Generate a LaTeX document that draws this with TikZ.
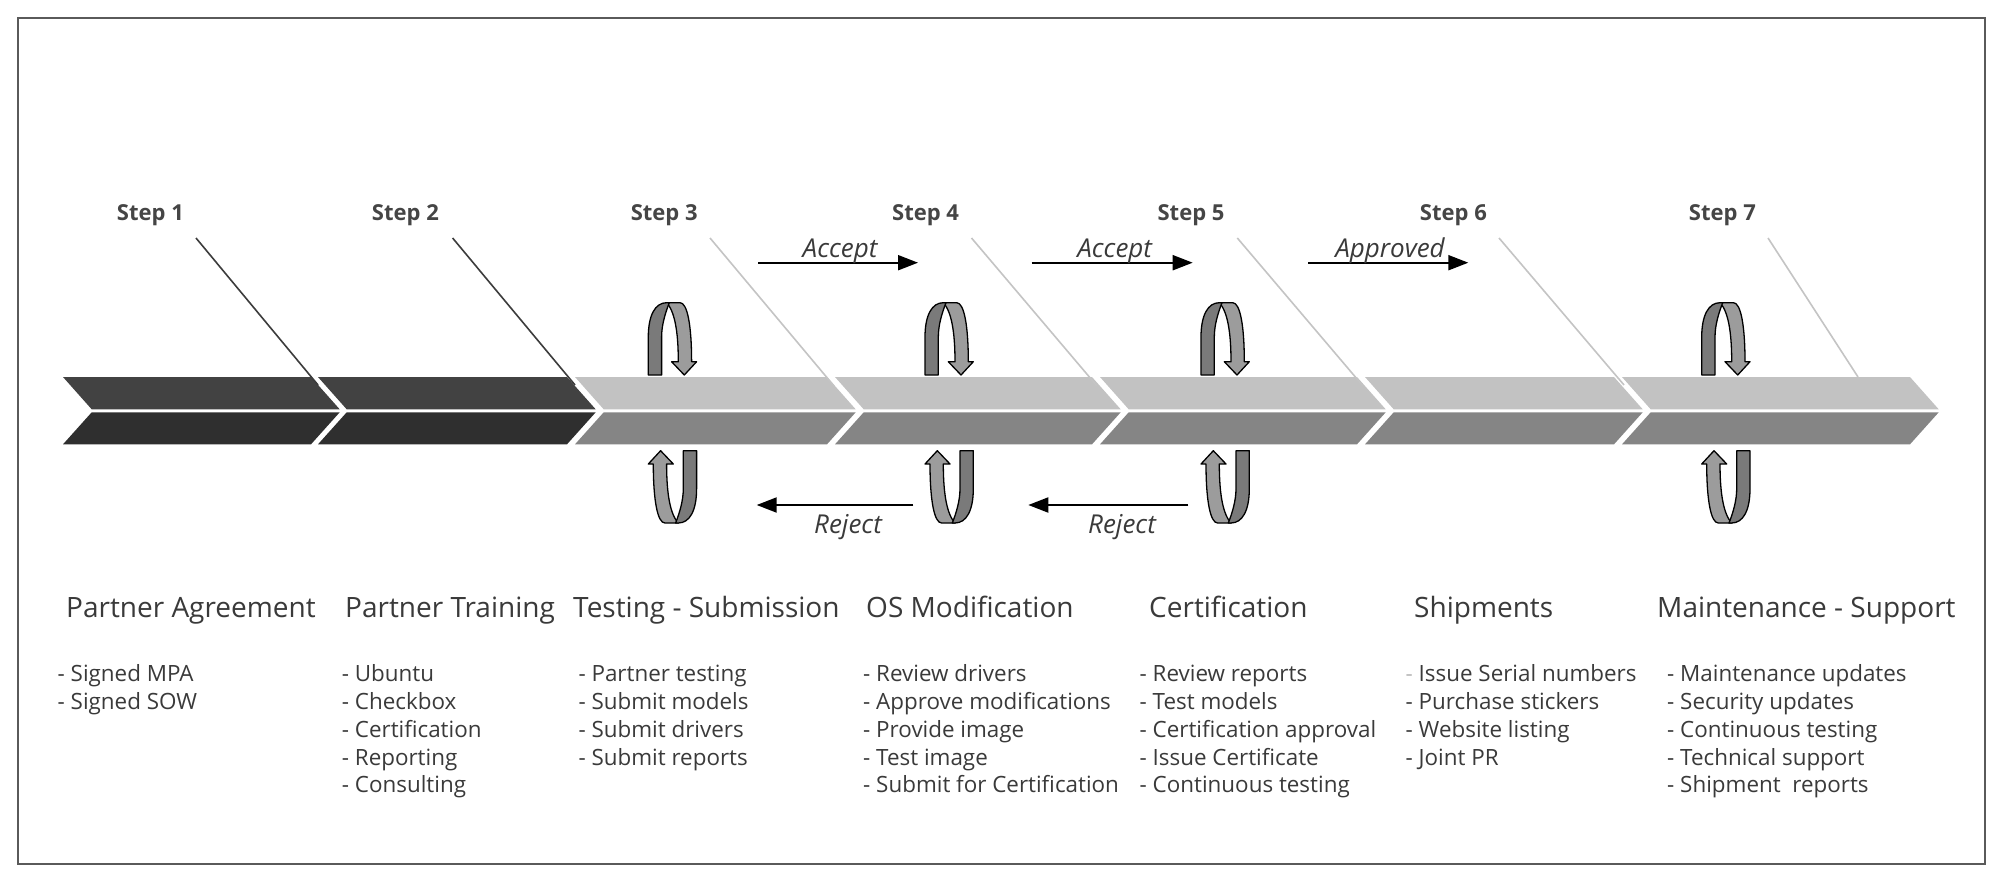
\documentclass[tikz,border=0pt]{standalone}
\usepackage{fontspec}
\setmainfont{Open Sans}
\usetikzlibrary{arrows.meta}
\definecolor{txt}{HTML}{3A3A3A}
\definecolor{steptxt}{HTML}{454545}
\definecolor{framec}{HTML}{5A5A5A}
\definecolor{dtop}{HTML}{424242}
\definecolor{dbot}{HTML}{2F2F2F}
\definecolor{ltop}{HTML}{C2C2C2}
\definecolor{lbot}{HTML}{858585}
\definecolor{ribdark}{HTML}{7A7A7A}
\definecolor{riblight}{HTML}{9C9C9C}
\definecolor{leaddark}{HTML}{3C3C3C}
\definecolor{leadlight}{HTML}{C4C4C4}
\newcommand\chev[4]{%
  \fill[#3] (#1,377) -- (#2,377) -- ({#2+28.7},409.3) -- ({#1+28.7},409.3) -- cycle;
  \fill[#4] ({#1+28.7},412.3) -- ({#2+28.7},412.3) -- (#2,444.3) -- (#1,444.3) -- cycle;}
\newcommand\loopshape{%
  \filldraw[riblight,draw=black,line width=1.3pt,line join=round]
    (18.3,-72.3) -- (31.7,-72.3) .. controls (39,-72.3) and (43.3,-50) .. (43.3,-13.3)
    -- (48.3,-13.3) -- (36,0) -- (23.3,-13.3) -- (30,-13.3)
    .. controls (30,-45) and (26,-64) .. (18.3,-72.3) -- cycle;
  \filldraw[ribdark,draw=black,line width=1.3pt,line join=round]
    (0,0) -- (0,-38) .. controls (0,-60) and (7,-72.3) .. (18.3,-72.3) -- (21,-72.3)
    .. controls (17,-62) and (13.3,-50) .. (13.3,-38) -- (13.3,0) -- cycle;}
\newcommand\toploop[1]{\begin{scope}[shift={(#1,375)}]\loopshape\end{scope}}
\newcommand\botloop[1]{\begin{scope}[shift={({#1+48.3},450.7)},rotate=180]\loopshape\end{scope}}
\tikzset{
  steplbl/.style={anchor=base,inner sep=0pt,text=steptxt,font=\fontsize{22}{26}\selectfont\bfseries},
  title/.style={anchor=base west,inner sep=0pt,text=txt,font=\fontsize{28}{32}\selectfont},
  item/.style={anchor=base west,inner sep=0pt,text=txt,font=\fontsize{22.4}{26}\selectfont},
  flowlbl/.style={anchor=base,inner sep=0pt,text=txt,font=\fontsize{26}{30}\selectfont\itshape},
  flowarrow/.style={-{Triangle[length=20pt,width=15pt]},line width=2pt,black},
  leaddk/.style={leaddark,line width=1.6pt},
  leadlt/.style={leadlight,line width=1.6pt}
}
\newcommand\items[3]{%
  \foreach \t [count=\n] in {#3} {\node[item] (#2-\n) at (#1,{681.7+27.8*(\n-1)}) {\t};}}
\begin{document}
\begin{tikzpicture}[x=1pt,y=-1pt]
\useasboundingbox (0,0) rectangle (1999,878);
\fill[white] (0,0) rectangle (1999,878);
\draw[framec,line width=2pt] (18,18) rectangle (1985,863.5);
% band
\chev{63}{311}{dtop}{dbot}
\chev{318}{567}{dtop}{dbot}
\chev{575}{827}{ltop}{lbot}
\chev{835}{1092}{ltop}{lbot}
\chev{1100}{1357}{ltop}{lbot}
\chev{1365}{1614}{ltop}{lbot}
\chev{1622}{1910}{ltop}{lbot}
% step labels
\node[steplbl] (s1) at (150.4,220) {Step 1};
\node[steplbl] (s2) at (405.4,220) {Step 2};
\node[steplbl] (s3) at (664.2,220) {Step 3};
\node[steplbl] (s4) at (925.6,220) {Step 4};
\node[steplbl] (s5) at (1191,220) {Step 5};
\node[steplbl] (s6) at (1453.4,220) {Step 6};
\node[steplbl] (s7) at (1722.4,220) {Step 7};
% leader lines
\coordinate (l1a) at (196,238);   \coordinate (l1b) at (318,385);
\coordinate (l2a) at (452.6,238); \coordinate (l2b) at (575,385);
\coordinate (l3a) at (710,238);   \coordinate (l3b) at (834,386);
\coordinate (l4a) at (971.5,238); \coordinate (l4b) at (1097,386);
\coordinate (l5a) at (1237.3,238);\coordinate (l5b) at (1363,386);
\coordinate (l6a) at (1499,238);  \coordinate (l6b) at (1624,385);
\coordinate (l7a) at (1768,238);  \coordinate (l7b) at (1858,377);
\draw[leaddk] (l1a) -- (l1b);
\draw[leaddk] (l2a) -- (l2b);
\draw[leadlt] (l3a) -- (l3b);
\draw[leadlt] (l4a) -- (l4b);
\draw[leadlt] (l5a) -- (l5b);
\draw[leadlt] (l6a) -- (l6b);
\draw[leadlt] (l7a) -- (l7b);
% loops
\toploop{648.3}\botloop{648.3}
\toploop{925}\botloop{925}
\toploop{1201}\botloop{1201}
\toploop{1701.7}\botloop{1701.7}
% accept / reject arrows
\coordinate (a1s) at (758,262.7);    \coordinate (a1e) at (918,262.7);
\coordinate (a2s) at (1031.7,262.7); \coordinate (a2e) at (1192.7,262.7);
\coordinate (a3s) at (1308.3,262.7); \coordinate (a3e) at (1468.3,262.7);
\coordinate (r1s) at (913.3,505);    \coordinate (r1e) at (756.7,505);
\coordinate (r2s) at (1188.3,505);   \coordinate (r2e) at (1028.3,505);
\draw[flowarrow] (a1s) -- (a1e);
\draw[flowarrow] (a2s) -- (a2e);
\draw[flowarrow] (a3s) -- (a3e);
\draw[flowarrow] (r1s) -- (r1e);
\draw[flowarrow] (r2s) -- (r2e);
\node[flowlbl] (acc1) at (840,257) {Accept};
\node[flowlbl] (acc2) at (1114.7,257) {Accept};
\node[flowlbl] (appr) at (1390,257) {Approved};
\node[flowlbl] (rej1) at (848,533.3) {Reject};
\node[flowlbl] (rej2) at (1122,533.3) {Reject};
% titles
\node[title] (t1) at (66,617.3) {Partner Agreement};
\node[title] (t2) at (345,617.3) {Partner Training};
\node[title] (t3) at (573,617.3) {Testing - Submission};
\node[title] (t4) at (866,617.3) {OS Modification};
\node[title] (t5) at (1149,617.3) {Certification};
\node[title] (t6) at (1414,617.3) {Shipments};
\node[title] (t7) at (1657,617.3) {Maintenance - Support};
% items
\items{57.5}{c1}{- Signed MPA,- Signed SOW}
\items{341.7}{c2}{- Ubuntu,- Checkbox,- Certification,- Reporting,- Consulting}
\items{578.3}{c3}{- Partner testing,- Submit models,- Submit drivers,- Submit reports}
\items{863}{c4}{- Review drivers,- Approve modifications,- Provide image,- Test image,- Submit for Certification}
\items{1139.5}{c5}{- Review reports,- Test models,- Certification approval,- Issue Certificate,- Continuous testing}
\items{1405.5}{c6}{{\color{gray!55}-} Issue Serial numbers,- Purchase stickers,- Website listing,- Joint PR}
\items{1667}{c7}{- Maintenance updates,- Security updates,- Continuous testing,- Technical support,- Shipment\ \ reports}
\end{tikzpicture}
\end{document}
